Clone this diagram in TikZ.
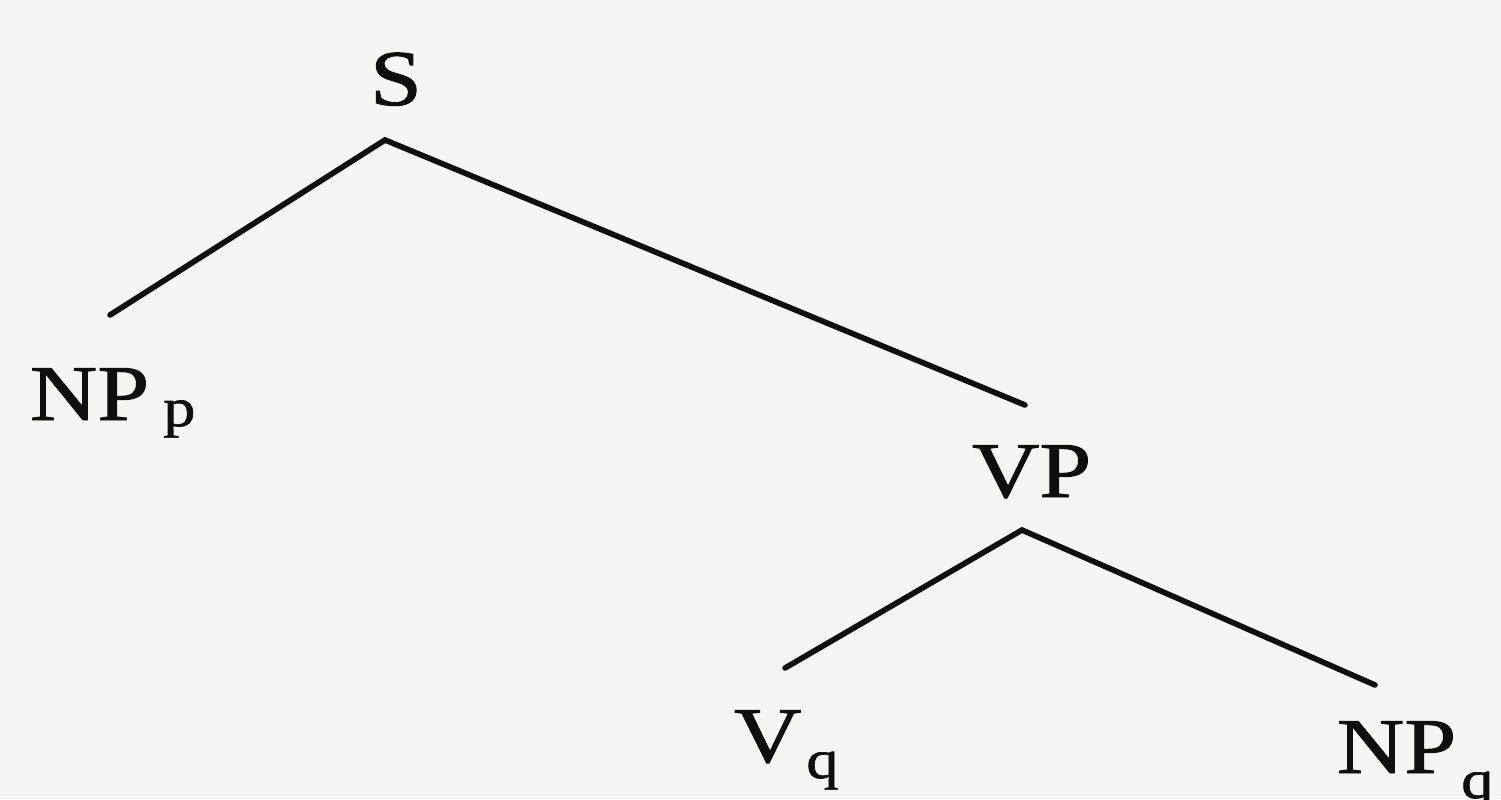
\documentclass[tikz,border=0pt]{standalone}
\usepackage{fontspec}
\setmainfont{Liberation Serif}[FakeStretch=1.18,FakeBold=1.2]
\definecolor{paper}{RGB}{245,245,244}
\definecolor{ink}{RGB}{15,15,15}
\begin{document}
\begin{tikzpicture}[x=0.02cm,y=-0.02cm,
  lbl/.style={inner sep=0pt,outer sep=0pt,text=ink,font=\fontsize{45}{50}\selectfont},
  branch/.style={draw=ink,line width=3.2pt,line cap=round}]
\fill[paper] (0,0) rectangle (1501,799);
\useasboundingbox (0,0) rectangle (1501,799);
\node[lbl,anchor=base] (S) at (396,105) {S};
\node[lbl,anchor=base west] (NPp) at (30,420) {NP\hspace{0.28cm}\raisebox{-0.12cm}{\fontsize{31}{31}\selectfont p}};
\node[lbl,anchor=base west] (VP) at (972,497) {VP};
\node[lbl,anchor=base west] (Vq) at (734,762) {V\hspace{0.1cm}\raisebox{-0.32cm}{\fontsize{31}{31}\selectfont q}};
\node[lbl,anchor=base west] (NPq) at (1337,773) {NP\hspace{0.1cm}\raisebox{-0.5cm}{\fontsize{31}{31}\selectfont q}};
\coordinate (Sb) at (385,140);
\coordinate (NPpt) at (110,315);
\coordinate (VPt) at (1025,405);
\coordinate (VPb) at (1022,530);
\coordinate (Vqt) at (785,668);
\coordinate (NPqt) at (1375,685);
\draw[branch] (NPpt) -- (Sb) -- (VPt);
\draw[branch] (Vqt) -- (VPb) -- (NPqt);
\end{tikzpicture}
\end{document}
